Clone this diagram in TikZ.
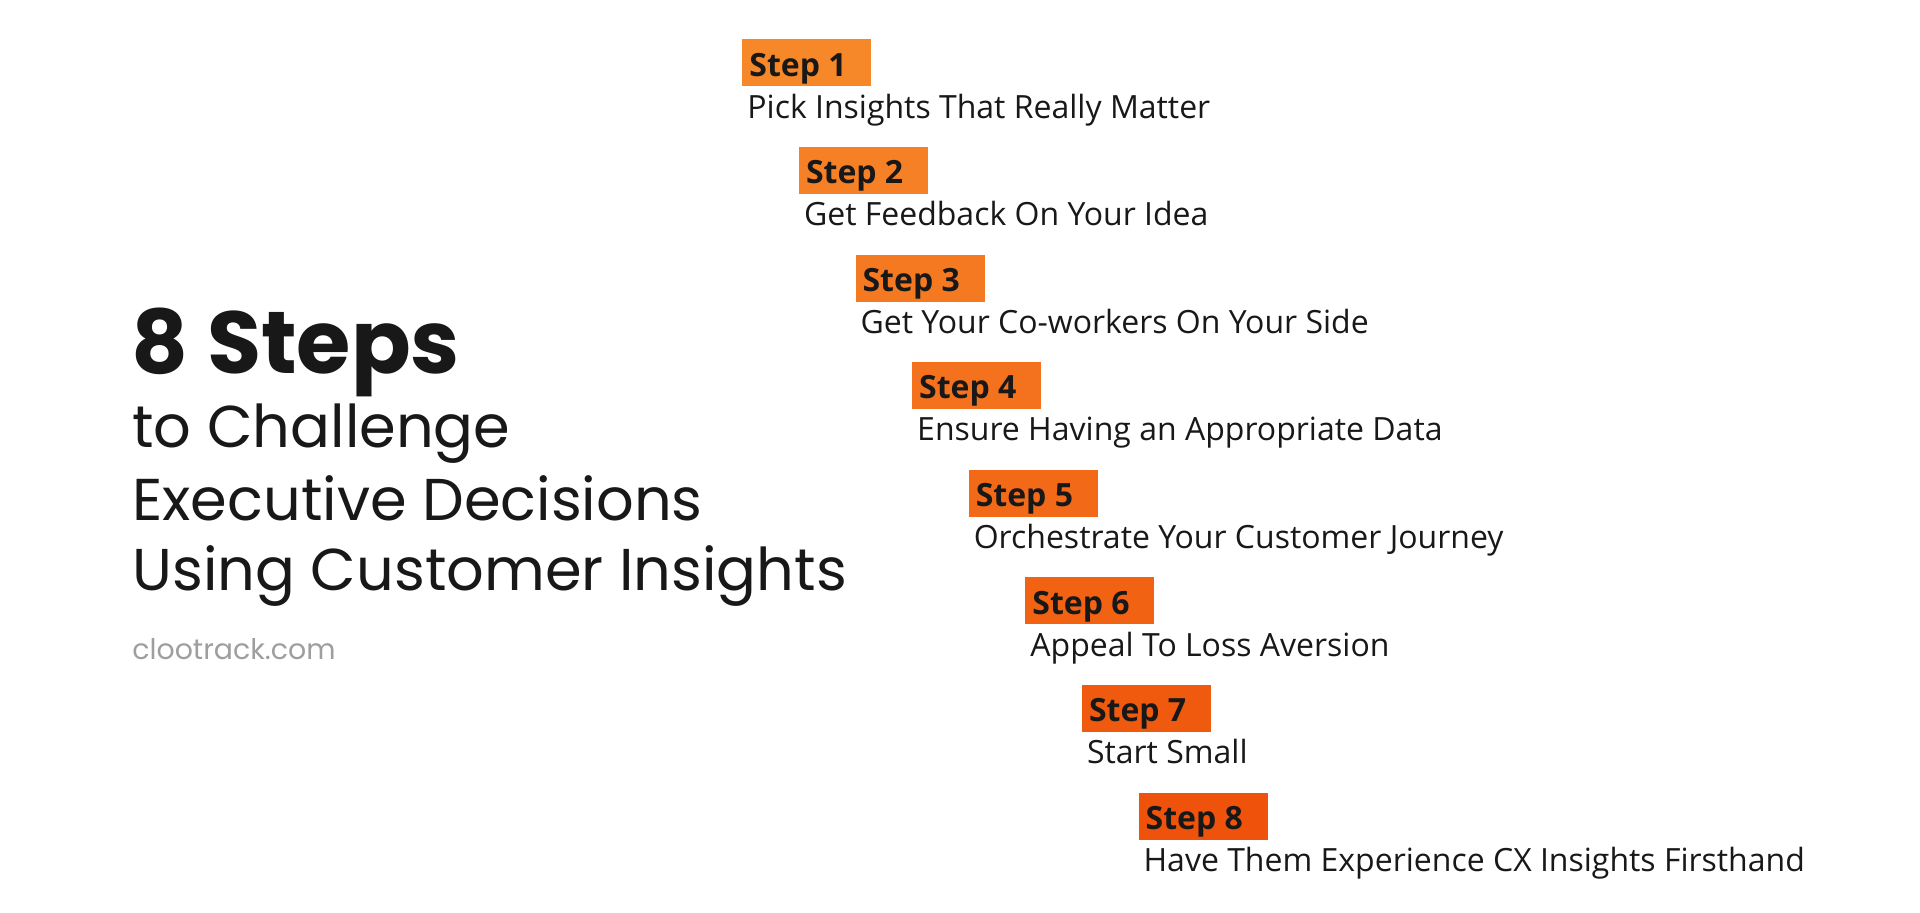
\documentclass[tikz,border=0pt]{standalone}
\usepackage{fontspec}
\setmainfont{Open Sans}
\newfontfamily\titlefont{Poppins}

\definecolor{stepfirst}{RGB}{247,136,42}
\definecolor{steplast}{RGB}{239,82,10}
\definecolor{sitegray}{RGB}{158,158,158}
\definecolor{inkblack}{RGB}{24,24,24}

\begin{document}
\begin{tikzpicture}
[
	x=0.5pt,y=-0.5pt,
	stepbox/.style={rectangle,inner sep=0pt,minimum width=64.5pt,minimum height=23.5pt,anchor=north west},
	steplabel/.style={anchor=base west,inner sep=0pt,text=inkblack,font=\fontsize{16}{16}\selectfont\bfseries},
	steptext/.style={anchor=base west,inner sep=0pt,text=inkblack,font=\fontsize{16}{16}\selectfont},
	headline/.style={anchor=base west,inner sep=0pt,text=inkblack,font=\titlefont\fontsize{29.5}{29.5}\selectfont}
]
	\useasboundingbox (0,0) rectangle (1920,912);

	% title block
	\node[headline,font=\titlefont\bfseries\fontsize{44}{44}\selectfont] (title) at (131,373) {8 Steps};
	\node[headline] (sub1) at (132,447) {to Challenge};
	\node[headline] (sub2) at (132,520) {Executive Decisions};
	\node[headline] (sub3) at (132,590) {Using Customer Insights};
	\node[headline,text=sitegray,font=\titlefont\fontsize{14.2}{14.2}\selectfont] (site) at (132,659) {clootrack.com};

	% staircase of steps
	\foreach \i/\desc in {1/Pick Insights That Really Matter,
		2/Get Feedback On Your Idea,
		3/Get Your Co-workers On Your Side,
		4/Ensure Having an Appropriate Data,
		5/Orchestrate Your Customer Journey,
		6/Appeal To Loss Aversion,
		7/Start Small,
		8/Have Them Experience CX Insights Firsthand}
	{
		\pgfmathsetmacro{\bx}{742+(\i-1)*56.6}
		\pgfmathsetmacro{\by}{39+(\i-1)*107.6}
		\pgfmathtruncatemacro{\mix}{100*(\i-1)/7}
		\colorlet{stepfill}{steplast!\mix!stepfirst}
		\node[stepbox,fill=stepfill] (box\i) at (\bx,\by) {};
		\node[steplabel] (lbl\i) at (\bx+7,\by+37) {Step \i};
		\node[steptext] (txt\i) at (\bx+5,\by+79) {\desc};
	}

\end{tikzpicture}
\end{document}
